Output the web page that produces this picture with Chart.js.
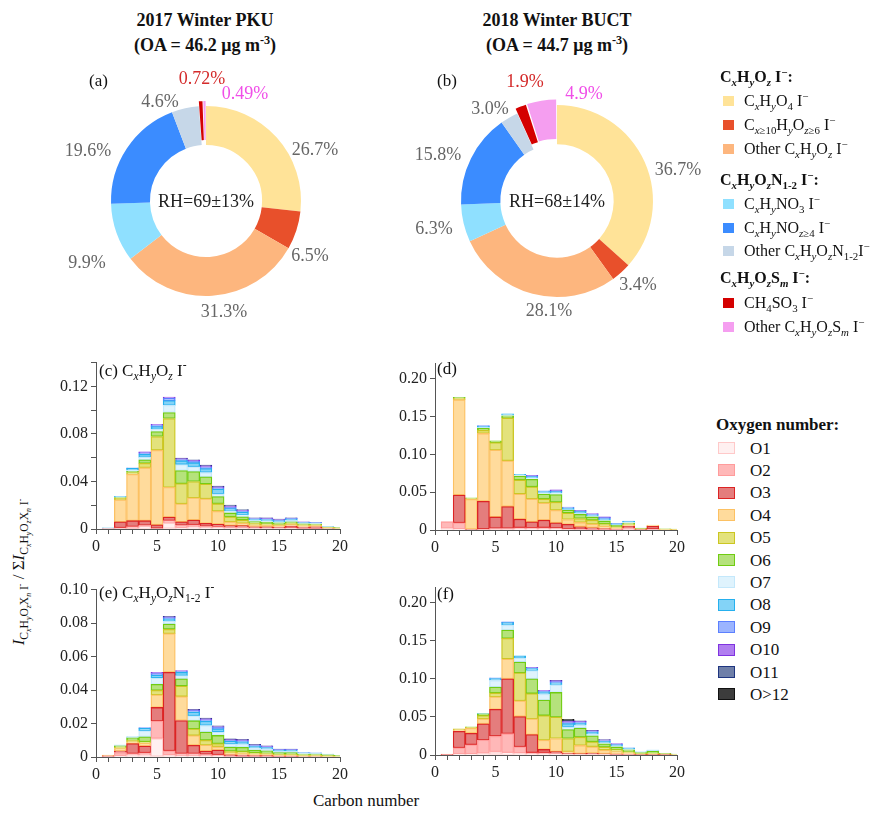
<!DOCTYPE html>
<html>
<head>
<meta charset="utf-8">
<script src="https://cdn.jsdelivr.net/npm/chart.js@4.4.1/dist/chart.umd.min.js"></script>
<style>
  body { margin: 0; background: #fff; }
  #page { position: relative; width: 884px; height: 814px; overflow: hidden;
          font-family: 'Liberation Serif', 'Times New Roman', serif; color: #111; background: #fff; }
  .t { position: absolute; white-space: nowrap; line-height: 1; }
  .c { transform: translateX(-50%); }
  sub, sup { font-size: 68%; line-height: 0; }
  canvas { position: absolute; }
  .sw { position: absolute; box-sizing: border-box; }
</style>
</head>
<body>
<div id="page">
  <canvas id="donutA" width="300" height="290" style="left:56px;top:56px"></canvas>
  <canvas id="donutB" width="300" height="290" style="left:407px;top:56px"></canvas>
  <canvas id="histC" width="316" height="209" style="left:36px;top:350px"></canvas>
  <canvas id="histD" width="314" height="209" style="left:375px;top:351px"></canvas>
  <canvas id="histE" width="316" height="210" style="left:36px;top:577px"></canvas>
  <canvas id="histF" width="314" height="210" style="left:375px;top:575px"></canvas>

  <div class="t c" style="left:205px;top:11px;font-size:18px;font-weight:bold">2017 Winter PKU</div>
  <div class="t c" style="left:205px;top:36px;font-size:18px;font-weight:bold">(OA = 46.2 μg m<sup>-3</sup>)</div>
  <div class="t c" style="left:557px;top:11px;font-size:18px;font-weight:bold">2018 Winter BUCT</div>
  <div class="t c" style="left:557px;top:36px;font-size:18px;font-weight:bold">(OA = 44.7 μg m<sup>-3</sup>)</div>
  <div class="t" style="left:89px;top:72px;font-size:17px">(a)</div>
  <div class="t" style="left:437px;top:72px;font-size:17px">(b)</div>

  <div class="t" style="left:99px;top:362px;font-size:17px">(c) C<sub><i>x</i></sub>H<sub><i>y</i></sub>O<sub><i>z</i></sub> I<sup>-</sup></div>
  <div class="t" style="left:437px;top:360px;font-size:17px">(d)</div>
  <div class="t" style="left:99px;top:584px;font-size:17px">(e) C<sub><i>x</i></sub>H<sub><i>y</i></sub>O<sub><i>z</i></sub>N<sub>1-2</sub> I<sup>-</sup></div>
  <div class="t" style="left:437px;top:585px;font-size:17px">(f)</div>

  <div class="t c" style="left:366px;top:792px;font-size:17px">Carbon number</div>
  <div class="t" style="left:20px;top:572px;font-size:17px;transform:translate(-50%,-50%) rotate(-90deg)"><i>I</i><sub>C<sub><i>x</i></sub>H<sub><i>y</i></sub>O<sub><i>z</i></sub>X<sub><i>n</i></sub> I<sup>-</sup></sub> / Σ<i>I</i><sub>C<sub><i>x</i></sub>H<sub><i>y</i></sub>O<sub><i>z</i></sub>X<sub><i>n</i></sub> I<sup>-</sup></sub></div>

  <div id="legendGroups"></div>
  <div id="legendOxygen"></div>
</div>

<script>
// ---- Composition of organic iodide adducts (% of total signal) ----
const groupNames = ['CxHyOz I−', 'CxHyOzN1-2 I−', 'CxHyOzSm I−'];
const categoryNames = [
  'CxHyO4 I−', 'Cx≥10HyOz≥6 I−', 'Other CxHyOz I−',
  'CxHyNO3 I−', 'CxHyNOz≥4 I−', 'Other CxHyOzN1-2I−',
  'CH4SO3 I−', 'Other CxHyOzSm I−'
];
const pkuShares  = [26.7, 6.5, 31.3, 9.9, 19.6, 4.6, 0.72, 0.49];
const buctShares = [36.7, 3.4, 28.1, 6.3, 15.8, 3.0, 1.9, 4.9];

// ---- Oxygen-number distributions vs. carbon number ----
const carbonNumbers = [1,2,3,4,5,6,7,8,9,10,11,12,13,14,15,16,17,18,19,20];
const oxygenClasses = ['O1','O2','O3','O4','O5','O6','O7','O8','O9','O10','O11','O>12'];

// one row per carbon number, columns O1 … O>12
const pkuCHO = [
  [0, .0003, 0, 0, 0, 0, .0004, .0003, 0, 0, 0, 0],
  [0, .001, .005, .0185, .0015, .0005, .0005, .0005, 0, 0, 0, 0],
  [0, .002, .005, .039, .0015, .001, .001, .0015, .0005, 0, 0, 0],
  [.002, .001, .004, .0446, .0036, .003, .002, .0027, .0012, .0008, 0, 0],
  [0, .0005, .003, .0627, .0116, .0042, .0019, .0022, .0014, .0005, 0, 0],
  [.005, .002, .003, .025, .058, .005, .006, .004, .002, .001, 0, 0],
  [.001, .002, .003, .0152, .017, .011, .005, .0033, .001, .0007, .0005, 0],
  [.0015, .002, .004, .0187, .0138, .0083, .004, .0035, .0012, .0008, .0005, 0],
  [.001, .0012, .0025, .0207, .0124, .0061, .0036, .0033, .0013, .001, .0007, 0],
  [.001, .001, .002, .0109, .0064, .006, .0022, .0041, .001, .0009, .0007, 0],
  [.0005, .0008, .0015, .0032, .0042, .0033, .0015, .0021, .0012, .001, .0008, 0],
  [.0005, .0008, .0015, .0019, .0028, .0027, .0018, .0023, .0008, .0007, .0005, 0],
  [.0003, .0005, .001, .0015, .0015, .0015, .001, .001, .0005, .0004, .0002, 0],
  [.0002, .0005, .0012, .0012, .0012, .0015, .001, .0012, .0006, .0005, .0003, 0],
  [.0002, .0004, .001, .0012, .001, .0013, .0008, .001, .0006, .0005, .0003, 0],
  [.0003, .0006, .0015, .0013, .0012, .0012, .0012, .001, .0006, .0003, .0002, 0],
  [0, .0005, .0012, .001, .0008, .0008, .0006, .0006, .0003, .0002, 0, 0],
  [0, .0004, .0015, .001, .0007, .0006, .0005, .0004, .0003, .0001, 0, 0],
  [0, 0, .0004, .0005, .0004, .0003, .0002, .0002, 0, 0, 0, 0],
  [0, 0, 0, .0005, .0004, .0003, .0002, .0001, 0, 0, 0, 0]
];
const buctCHO = [
  [.002, .009, 0, 0, 0, 0, 0, 0, 0, 0, 0, 0],
  [.001, .0085, .0368, .126, .0022, .0008, .0005, 0, 0, 0, 0, 0],
  [0, 0, .001, .0395, .0012, .0007, 0, 0, 0, 0, 0, 0],
  [0, .001, .037, .0897, .0043, .0025, .001, .0015, .001, 0, 0, 0],
  [0, .002, .0153, .0883, .01, .0022, 0, 0, 0, 0, 0, 0],
  [0, .002, .029, .0606, .0566, .0026, .0015, .0012, 0, 0, 0, 0],
  [.001, .002, .0113, .0333, .0186, .0052, .001, .0012, 0, 0, 0, 0],
  [.001, .0018, .008, .0303, .016, .01, .0019, .0015, .001, .0008, 0, 0],
  [.001, .002, .01, .0225, .0056, .0065, .0019, .0014, .001, 0, 0, 0],
  [.001, .0015, .007, .0165, .0108, .01, .0021, .0018, .0012, .0013, 0, 0],
  [0, .0015, .0059, .0065, .0086, .0035, .001, .0018, .0015, 0, 0, 0],
  [0, .001, .0033, .0057, .0052, .0056, .0012, .0022, .0012, .0006, 0, 0],
  [0, .0008, .0022, .0048, .0052, .0043, .001, .0015, .0011, .0007, 0, 0],
  [0, .0005, .0015, .003, .003, .004, .001, .0018, .0015, .001, 0, 0],
  [0, .0003, .001, .0015, .0015, .0019, .0008, .0012, .0005, 0, 0, 0],
  [0, .0025, .0025, .0015, .0012, .0015, .001, .0012, .0003, 0, 0, 0],
  [0, 0, .0005, .0008, .0005, .0003, 0, .0003, 0, 0, 0, 0],
  [0, .001, .004, .0015, 0, 0, 0, 0, 0, 0, 0, 0],
  [0, 0, 0, .0008, .0004, .0003, 0, 0, 0, 0, 0, 0],
  [0, 0, 0, .0006, .0003, .0003, 0, 0, 0, 0, 0, 0]
];
const pkuCHON = [
  [0, .0003, .0004, .0005, 0, 0, 0, 0, 0, 0, 0, 0],
  [.0005, .0022, .0008, .0016, .0009, .0007, .0002, .0002, 0, 0, 0, 0],
  [.001, .001, .006, .001, .001, .0014, .0003, .0003, 0, 0, 0, 0],
  [.001, .0015, .004, .0016, .001, .003, .0035, .0015, .0005, 0, 0, 0],
  [.011, .0104, .0082, .0075, .0027, .0036, .0038, .0018, .0009, .0007, 0, 0],
  [.001, .0027, .0469, .0231, .0026, .0031, .0016, .0016, .0007, .0005, .0003, 0],
  [.0005, .0015, .0198, .0143, .0063, .0043, .0019, .002, .0006, .0004, 0, 0],
  [.0005, .0015, .005, .0058, .004, .0049, .0029, .0023, .0008, .0005, .0003, 0],
  [.0005, .001, .002, .0036, .0029, .0049, .0039, .0026, .0008, .0006, .0005, 0],
  [.0005, .0008, .0028, .002, .0019, .0049, .002, .002, .0008, .0005, .0004, 0],
  [0, .0005, .0008, .0012, .001, .0025, .0018, .0015, .0006, .0005, .0004, 0],
  [0, .0004, .0008, .001, .001, .0026, .0018, .0014, .0007, .0005, .0004, 0],
  [0, .0003, .0006, .0008, .0008, .0017, .0012, .001, .0005, .0004, .0003, 0],
  [0, .0003, .0005, .0007, .0007, .0015, .001, .001, .0004, .0004, .0002, 0],
  [0, .0002, .0004, .0005, .0005, .001, .0008, .0007, .0003, .0002, .0001, 0],
  [0, .0002, .0004, .0005, .0005, .001, .0008, .0007, .0003, .0002, .0001, 0],
  [0, 0, .0003, .0004, .0004, .0007, .0004, .0003, .0002, 0, 0, 0],
  [0, 0, .0003, .0004, .0004, .0006, .0004, .0003, .0001, 0, 0, 0],
  [0, 0, 0, .0004, .0004, .0005, .0003, .0002, 0, 0, 0, 0],
  [0, 0, 0, .0003, .0003, .0004, .0002, 0, 0, 0, 0, 0]
];
const buctCHON = [
  [0, .0005, .0004, .0004, 0, 0, 0, 0, 0, 0, 0, 0],
  [.001, .0085, .0216, .0021, .0013, 0, 0, 0, 0, 0, 0, 0],
  [.001, .0125, .015, .0065, .0015, .0005, 0, 0, 0, 0, 0, 0],
  [.002, .0174, .0216, .0065, .0043, .0022, .0004, .0004, 0, 0, 0, 0],
  [.0043, .0203, .0354, .0164, .0052, .0078, .0086, .0025, .001, 0, 0, 0],
  [.003, .025, .0722, .0259, .0272, .0108, .0065, .0034, .0009, 0, 0, 0],
  [.0022, .0086, .0397, .0207, .0367, .0142, .0052, .0031, 0, 0, 0, 0],
  [.001, .002, .0238, .0207, .0332, .0195, .0107, .0028, .001, .0006, 0, 0],
  [.001, .002, .0043, .0121, .0324, .0203, .0078, .003, .0012, .0009, 0, 0],
  [.001, .0012, .0022, .0173, .0281, .0324, .0099, .0029, .0015, .0012, .0003, 0],
  [.0005, .0007, .001, .0022, .0173, .0117, .0035, .0043, .0015, .0015, .001, .0018],
  [.0003, .0005, .001, .0108, .0108, .0121, .0039, .0025, .0012, .001, .0009, 0],
  [.0003, .0005, .0015, .0086, .0065, .0078, .0022, .0025, .0013, .0008, .0004, 0],
  [.0002, .0004, .001, .005, .0035, .0045, .0015, .0018, .0012, .0008, .0004, 0],
  [0, .0003, .0008, .0035, .0025, .0035, .0012, .0015, .001, .0008, 0, 0],
  [0, .0002, .0005, .002, .0015, .0025, .0012, .0011, .0005, 0, 0, 0],
  [0, 0, .0003, .0008, .0008, .0012, .0007, .0005, 0, 0, 0, 0],
  [0, 0, .0003, .001, .0012, .0022, .0012, .0006, 0, 0, 0, 0],
  [0, 0, .0003, .0008, .0006, .0005, .0003, 0, 0, 0, 0, 0],
  [0, 0, 0, .0006, .0004, .0003, .0002, 0, 0, 0, 0, 0]
];

// ---- styling ----
const SERIF = "'Liberation Serif', 'Times New Roman', serif";
const sliceColors = ['#ffe398', '#e8502b', '#fdb67e', '#8fe0ff', '#3b8cff', '#c6d7e8', '#d40000', '#f59ef0'];
const labelColors = ['#666', '#666', '#666', '#666', '#666', '#666', '#d42a2a', '#f04ee8'];
const oxygenFill = ['#fff0f0', '#ffb8b8', '#e47d7d', '#ffdb9c', '#e3e27c', '#b5e27c',
                    '#dff3fd', '#83d3f7', '#9bb4ff', '#b07ef0', '#6f7fa8', '#3c3c3c'];
const oxygenEdge = ['#ffc9c9', '#ff9c9c', '#dc2424', '#fcc163', '#cbc622', '#70cc12',
                    '#c4e8fb', '#26b0ee', '#5c80ff', '#7f33e0', '#1f3580', '#111111'];
const axisColor = '#555';

// rich-text versions of the category names for the HTML legend
const richCategories = [
  'C<sub><i>x</i></sub>H<sub><i>y</i></sub>O<sub>4</sub> I<sup>−</sup>',
  'C<sub><i>x</i>≥10</sub>H<sub><i>y</i></sub>O<sub><i>z</i>≥6</sub> I<sup>−</sup>',
  'Other C<sub><i>x</i></sub>H<sub><i>y</i></sub>O<sub><i>z</i></sub> I<sup>−</sup>',
  'C<sub><i>x</i></sub>H<sub><i>y</i></sub>NO<sub>3</sub> I<sup>−</sup>',
  'C<sub><i>x</i></sub>H<sub><i>y</i></sub>NO<sub><i>z</i>≥4</sub> I<sup>−</sup>',
  'Other C<sub><i>x</i></sub>H<sub><i>y</i></sub>O<sub><i>z</i></sub>N<sub>1-2</sub>I<sup>−</sup>',
  'CH<sub>4</sub>SO<sub>3</sub> I<sup>−</sup>',
  'Other C<sub><i>x</i></sub>H<sub><i>y</i></sub>O<sub><i>z</i></sub>S<sub><i>m</i></sub> I<sup>−</sup>'
];
const richGroups = [
  'C<sub><i>x</i></sub>H<sub><i>y</i></sub>O<sub><i>z</i></sub> I<sup>−</sup>:',
  'C<sub><i>x</i></sub>H<sub><i>y</i></sub>O<sub><i>z</i></sub>N<sub>1-2</sub> I<sup>−</sup>:',
  'C<sub><i>x</i></sub>H<sub><i>y</i></sub>O<sub><i>z</i></sub>S<sub><i>m</i></sub> I<sup>−</sup>:'
];

// ---- doughnut charts ----
const fmtShare = v => (v < 1 ? v.toFixed(2) : v.toFixed(1)) + '%';

const donutText = {
  id: 'donutText',
  afterDatasetsDraw(chart, args, opts) {
    const ctx = chart.ctx;
    const arc = chart.getDatasetMeta(0).data[0];
    const cx = arc.x, cy = arc.y;
    ctx.save();
    ctx.font = '18px ' + SERIF;
    ctx.textAlign = 'center';
    ctx.textBaseline = 'middle';
    chart.data.datasets[0].data.forEach((v, i) => {
      ctx.fillStyle = labelColors[i];
      ctx.fillText(fmtShare(v), cx + opts.place[i][0], cy + opts.place[i][1]);
    });
    ctx.fillStyle = '#222';
    ctx.fillText(opts.center, cx, cy + 1);
    ctx.restore();
  }
};

function donut(id, shares, radius, offsets, place, centerText) {
  return new Chart(document.getElementById(id), {
    type: 'doughnut',
    data: {
      labels: categoryNames,
      datasets: [{
        data: shares,
        backgroundColor: sliceColors,
        borderWidth: 0,
        offset: offsets,
        hoverOffset: 0
      }]
    },
    options: {
      responsive: false,
      animation: false,
      events: [],
      radius: radius,
      cutout: '59%',
      layout: { padding: 0 },
      plugins: {
        legend: { display: false },
        tooltip: { enabled: false },
        donutText: { place: place, center: centerText }
      }
    },
    plugins: [donutText]
  });
}

// label anchor points relative to the ring centre
donut('donutA', pkuShares, 95, [0, 0, 0, 0, 0, 0, 10, 10],
  [[109, -51], [104, 55], [18, 111], [-119, 62], [-118, -50], [-46, -99], [-4, -122], [39, -107]],
  'RH=69±13%');
donut('donutB', buctShares, 96, [0, 0, 0, 0, 0, 0, 11, 13],
  [[121, -31], [81, 84], [-8, 110], [-123, 28], [-119, -46], [-67, -92], [-32, -119], [27, -107]],
  'RH=68±14%');

// ---- stacked histograms ----
function histogram(id, rows, yMax, yStep, yLabel) {
  const datasets = oxygenClasses.map((name, k) => ({
    label: name,
    data: rows.map(r => (r[k] ? r[k] : null)),
    backgroundColor: oxygenFill[k],
    borderColor: oxygenEdge[k],
    borderWidth: 1.3,
    borderSkipped: false,
    barPercentage: 1,
    categoryPercentage: 1
  }));
  const tickFont = { family: SERIF, size: 16 };
  return new Chart(document.getElementById(id), {
    type: 'bar',
    data: { labels: carbonNumbers, datasets },
    options: {
      responsive: false,
      animation: false,
      events: [],
      layout: { padding: { top: 10, right: 12, left: 0, bottom: 0 } },
      plugins: { legend: { display: false }, tooltip: { enabled: false } },
      scales: {
        x: {
          type: 'linear', min: 0, max: 20, offset: false, stacked: true,
          grid: { offset: false, drawOnChartArea: false, drawTicks: true, tickLength: 5, color: axisColor },
          border: { display: true, color: axisColor, width: 1 },
          ticks: {
            stepSize: 1, autoSkip: false, maxRotation: 0, padding: 3, color: '#222', font: tickFont,
            callback: v => (v % 5 === 0 ? String(v) : '')
          },
          afterFit(s) { s.height = 30; }
        },
        y: {
          type: 'linear', min: 0, max: yMax, stacked: true,
          grid: { drawOnChartArea: false, drawTicks: true, tickLength: 5, color: axisColor },
          border: { display: true, color: axisColor, width: 1 },
          ticks: {
            stepSize: yStep, includeBounds: false, autoSkip: false, padding: 3, color: '#222', font: tickFont,
            callback: yLabel
          },
          afterFit(s) { s.width = 60; }
        }
      }
    }
  });
}

const everyOther02 = v => {
  const n = Math.round(v / 0.02);
  if (n === 0) return '0';
  return n % 2 === 0 ? v.toFixed(2) : '';
};
const plainLabel = v => (Math.abs(v) < 1e-9 ? '0' : v.toFixed(2));

histogram('histC', pkuCHO, 0.14, 0.02, everyOther02);
histogram('histD', buctCHO, 0.22, 0.05, plainLabel);
histogram('histE', pkuCHON, 0.10, 0.02, plainLabel);
histogram('histF', buctCHON, 0.22, 0.05, plainLabel);

// ---- legends ----
(function buildLegends() {
  const host = document.getElementById('legendGroups');
  const headerY = [77, 180, 278];
  const itemY = [101, 125, 149, 204, 228, 251, 303, 327];
  const groupOf = [0, 0, 0, 1, 1, 1, 2, 2];
  let html = '';
  richGroups.forEach((g, i) => {
    html += `<div class="t" style="left:720px;top:${headerY[i] - 8}px;font-size:16px;font-weight:bold">${g}</div>`;
  });
  richCategories.forEach((c, i) => {
    html += `<div class="sw" style="left:723px;top:${itemY[i] - 5}px;width:11px;height:10px;background:${sliceColors[i]}"></div>`;
    html += `<div class="t" style="left:744px;top:${itemY[i] - 8}px;font-size:16px">${c}</div>`;
  });
  host.innerHTML = html;

  const oxy = document.getElementById('legendOxygen');
  let h2 = `<div class="t" style="left:716px;top:${425 - 9}px;font-size:17px;font-weight:bold">Oxygen number:</div>`;
  oxygenClasses.forEach((name, k) => {
    const y = 448 + k * 22.4;
    h2 += `<div class="sw" style="left:718px;top:${(y - 6).toFixed(1)}px;width:17px;height:12px;background:${oxygenFill[k]};border:1.5px solid ${oxygenEdge[k]}"></div>`;
    h2 += `<div class="t" style="left:750px;top:${(y - 8.5).toFixed(1)}px;font-size:17px">${name}</div>`;
  });
  oxy.innerHTML = h2;
})();
</script>
</body>
</html>
